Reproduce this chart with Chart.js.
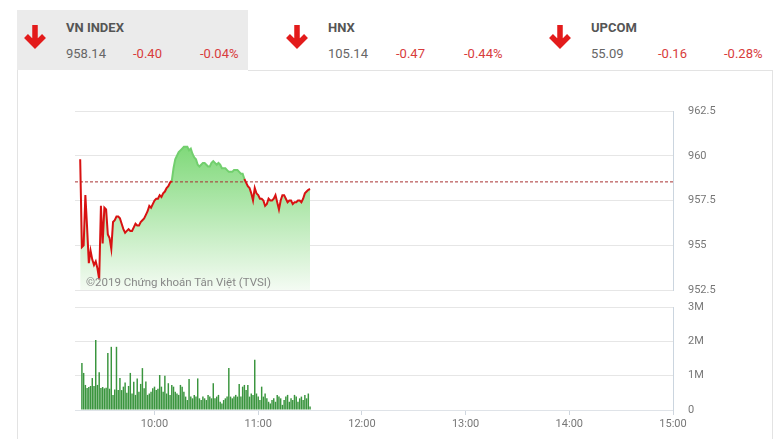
<!DOCTYPE html>
<html><head><meta charset="utf-8">
<script src="https://cdn.jsdelivr.net/npm/chart.js@4.4.0/dist/chart.umd.min.js"></script>
<style>
body{margin:0;width:780px;height:439px;overflow:hidden;background:#fff;font-family:Roboto,sans-serif;position:relative}
.hbox{position:absolute;left:17px;top:10px;width:231px;height:60px;background:#ebebeb}
.panel{position:absolute;left:17px;top:70px;width:754px;height:400px;border-left:1px solid #e3e3e3;border-right:1px solid #e3e3e3}
.topline{position:absolute;left:248px;top:70px;width:524px;height:1px;background:#e3e3e3}
.name{position:absolute;font-weight:bold;font-size:13px;line-height:15px;color:#555}
.val{position:absolute;font-size:13px;line-height:15px;color:#666}
.red{color:#d83c3c}
.arrow{position:absolute}
canvas{position:absolute;left:0;top:0}
.wm{position:absolute;left:86px;top:275px;font-size:11.5px;line-height:14px;color:#888}
</style>
</head><body>
<div class="hbox"></div>
<div class="panel"></div>
<div class="topline"></div>

<svg class="arrow" style="left:22px;top:24px" width="26" height="27" viewBox="0 0 26 27"><path d="M13 1 V20 M4 12 L13 21 L22 12" stroke="#e31b1b" stroke-width="5.5" fill="none"/></svg>
<div class="name" style="left:66px;top:20px">VN INDEX</div>
<div class="val" style="left:66px;top:46px">958.14</div>
<div class="val red" style="left:133px;top:46px">-0.40</div>
<div class="val red" style="left:200px;top:46px">-0.04%</div>

<svg class="arrow" style="left:284px;top:24px" width="26" height="27" viewBox="0 0 26 27"><path d="M13 1 V20 M4 12 L13 21 L22 12" stroke="#e31b1b" stroke-width="5.5" fill="none"/></svg>
<div class="name" style="left:328px;top:20px">HNX</div>
<div class="val" style="left:328px;top:46px">105.14</div>
<div class="val red" style="left:396px;top:46px">-0.47</div>
<div class="val red" style="left:464px;top:46px">-0.44%</div>

<svg class="arrow" style="left:547px;top:24px" width="26" height="27" viewBox="0 0 26 27"><path d="M13 1 V20 M4 12 L13 21 L22 12" stroke="#e31b1b" stroke-width="5.5" fill="none"/></svg>
<div class="name" style="left:591px;top:20px">UPCOM</div>
<div class="val" style="left:591px;top:46px">55.09</div>
<div class="val red" style="left:658px;top:46px">-0.16</div>
<div class="val red" style="left:724px;top:46px">-0.28%</div>

<canvas id="price" width="780" height="439"></canvas>
<canvas id="vol" width="780" height="439"></canvas>
<div class="wm">©2019 Chứng khoán Tân Việt (TVSI)</div>

<script>
const referencePrice = 958.54;
const priceTicks = [952.5, 955, 957.5, 960, 962.5];
const volumeTicks = [0, 1, 2, 3];
const hourTicks = ['10:00', '11:00', '12:00', '13:00', '14:00', '15:00'];
const axisStart = '09:14';
const axisEnd = '15:00';

const times = [
 '09:17','09:18','09:19','09:20','09:21','09:22','09:23','09:24','09:25','09:26',
 '09:27','09:28','09:29','09:30','09:31','09:32','09:33','09:34','09:35','09:36',
 '09:37','09:38','09:39','09:40','09:41','09:42','09:43','09:44','09:45','09:46',
 '09:47','09:48','09:49','09:50','09:51','09:52','09:53','09:54','09:55','09:56',
 '09:57','09:58','09:59','10:00','10:01','10:02','10:03','10:04','10:05','10:06',
 '10:07','10:08','10:09','10:10','10:11','10:12','10:13','10:14','10:15','10:16',
 '10:17','10:18','10:19','10:20','10:21','10:22','10:23','10:24','10:25','10:26',
 '10:27','10:28','10:29','10:30','10:31','10:32','10:33','10:34','10:35','10:36',
 '10:37','10:38','10:39','10:40','10:41','10:42','10:43','10:44','10:45','10:46',
 '10:47','10:48','10:49','10:50','10:51','10:52','10:53','10:54','10:55','10:56',
 '10:57','10:58','10:59','11:00','11:01','11:02','11:03','11:04','11:05','11:06',
 '11:07','11:08','11:09','11:10','11:11','11:12','11:13','11:14','11:15','11:16',
 '11:17','11:18','11:19','11:20','11:21','11:22','11:23','11:24','11:25','11:26',
 '11:27','11:28','11:29','11:30'
];

const prices = [
 959.8,954.9,955.0,957.8,956.0,954.0,954.7,954.2,953.9,954.1,
 953.7,953.1,957.2,955.1,957.1,957.0,955.6,955.4,954.8,956.3,
 956.4,956.6,956.6,956.5,956.2,955.9,955.7,955.8,955.9,955.8,
 955.8,956.0,956.2,956.1,956.1,956.3,956.4,956.5,956.7,956.9,
 957.2,957.1,957.3,957.5,957.6,957.6,957.8,957.7,957.9,958.0,
 958.2,958.3,958.5,958.6,959.3,959.8,960.0,960.2,960.3,960.4,
 960.5,960.5,960.5,960.3,960.4,960.1,959.9,959.8,959.5,959.4,
 959.5,959.6,959.6,959.5,959.4,959.4,959.6,959.7,959.6,959.5,
 959.6,959.5,959.3,959.3,959.3,959.2,959.1,959.1,959.1,959.2,
 959.2,959.2,959.1,959.0,959.0,958.7,958.5,958.3,958.2,957.9,
 957.5,958.2,957.9,957.8,957.6,957.6,957.5,957.2,957.3,957.6,
 957.5,957.5,957.6,957.8,957.4,957.0,957.5,957.8,957.8,957.6,
 957.4,957.5,957.5,957.3,957.4,957.4,957.5,957.5,957.4,957.6,
 957.9,958.0,958.1,958.14
];

// volume in millions of shares
const volumes = [
 null,1.37,1.08,0.73,0.64,0.67,0.70,0.93,0.70,2.04,
 0.73,1.10,0.64,0.67,0.63,0.65,1.66,0.62,1.84,0.44,
 0.60,1.84,0.58,0.93,0.58,0.68,0.80,0.50,0.70,1.08,
 0.48,0.82,0.44,0.92,0.53,0.76,1.22,0.63,0.83,0.44,
 0.48,0.53,0.63,0.68,0.58,0.62,1.02,0.68,0.53,1.00,
 0.48,0.78,0.44,0.73,0.68,0.53,0.48,0.44,0.73,0.68,
 0.53,0.39,0.29,0.90,0.39,0.34,0.44,0.39,0.92,0.34,
 0.29,0.39,0.34,0.29,0.44,0.39,0.34,0.78,0.34,0.39,
 0.44,0.24,0.19,0.29,0.34,0.39,1.22,0.39,0.34,0.39,
 0.44,0.39,0.76,0.39,0.68,0.73,0.58,0.73,0.39,0.48,
 0.44,1.46,0.48,0.39,0.29,0.68,0.39,0.48,0.34,0.24,
 0.19,0.29,0.34,0.24,0.44,0.39,0.34,0.15,0.29,0.39,
 0.44,0.24,0.34,0.29,0.44,0.39,0.24,0.34,0.39,0.29,
 0.44,0.34,0.48,0.10
];

function toMin(s){const p=s.split(':');return (+p[0]-9)*60+(+p[1]);}
function fmtMin(m){const h=9+Math.floor(m/60), mm=m%60;return h+':'+String(mm).padStart(2,'0');}

Chart.defaults.font.family = 'Roboto, sans-serif';
const xMin = toMin(axisStart), xMax = toMin(axisEnd);
const GREEN_LINE = '#72cf6e', RED_LINE = '#d81212';
const pricePoints = times.map((t,i)=>({x:toMin(t), y:prices[i]}));

new Chart(document.getElementById('price'), {
  type: 'line',
  data: { datasets: [
    { data: pricePoints, order: 0,
      borderColor: RED_LINE, borderWidth: 2, pointRadius: 0, tension: 0, fill: false,
      segment: { borderColor: (c) => (c.p0.parsed.y > referencePrice && c.p1.parsed.y > referencePrice) ? GREEN_LINE : RED_LINE }
    },
    { data: [{x:xMin, y:referencePrice},{x:xMax, y:referencePrice}], order: 1,
      borderColor: '#a83232', borderDash: [3,2], borderWidth: 1, pointRadius: 0, fill: false },
    { data: pricePoints, order: 2,
      borderWidth: 0, borderColor: 'rgba(0,0,0,0)', pointRadius: 0, tension: 0,
      fill: 'start',
      backgroundColor: (ctx) => {
        const ca = ctx.chart.chartArea; if (!ca) return 'rgba(0,0,0,0)';
        const g = ctx.chart.ctx.createLinearGradient(0, ca.top + 36, 0, ca.bottom);
        g.addColorStop(0, '#80d97a'); g.addColorStop(1, '#f4fbf3'); return g;
      }
    }
  ]},
  options: {
    responsive: false, animation: false,
    layout: { padding: { left: 75, top: 111, bottom: 149, right: 0 } },
    plugins: { legend: { display: false }, tooltip: { enabled: false } },
    scales: {
      x: { type: 'linear', min: xMin, max: xMax, display: false },
      y: { position: 'right', min: priceTicks[0], max: priceTicks[priceTicks.length-1],
        afterBuildTicks: (s) => { s.ticks = priceTicks.map(v=>({value:v})); },
        ticks: { padding: 15, color: '#777', font: { size: 11 }, callback: (v) => String(v) },
        grid: { color: '#e6e6e6', drawTicks: false },
        border: { display: true, color: '#cbd5df' },
        afterFit: (s) => { s.width = 107; } }
    }
  }
});

new Chart(document.getElementById('vol'), {
  type: 'bar',
  data: { datasets: [
    { data: times.map((t,i)=>({x:toMin(t), y:volumes[i]})),
      backgroundColor: '#3a953e', borderWidth: 0,
      categoryPercentage: 1, barPercentage: 0.85 }
  ]},
  options: {
    responsive: false, animation: false,
    layout: { padding: { left: 75, top: 307, bottom: 0, right: 0 } },
    plugins: { legend: { display: false }, tooltip: { enabled: false } },
    scales: {
      x: { type: 'linear', min: xMin, max: xMax, offset: false,
        afterBuildTicks: (s) => { s.ticks = hourTicks.map(h=>({value:toMin(h)})); },
        ticks: { color: '#777', font: { size: 11 }, padding: 3, maxRotation: 0, autoSkip: false, callback: (v) => fmtMin(v) },
        grid: { offset: false, drawOnChartArea: false, drawTicks: true, tickLength: 5, color: '#cfd6de' },
        border: { display: true, color: '#dfe3e8' },
        afterFit: (s) => { s.height = 29; } },
      y: { position: 'right', min: volumeTicks[0], max: volumeTicks[volumeTicks.length-1],
        afterBuildTicks: (s) => { s.ticks = volumeTicks.map(v=>({value:v})); },
        ticks: { padding: 15, color: '#777', font: { size: 11 }, callback: (v) => v === 0 ? '0' : v + 'M' },
        grid: { color: '#e6e6e6', drawTicks: false },
        border: { display: true, color: '#cbd5df' },
        afterFit: (s) => { s.width = 107; } }
    }
  }
});
</script>
</body></html>
